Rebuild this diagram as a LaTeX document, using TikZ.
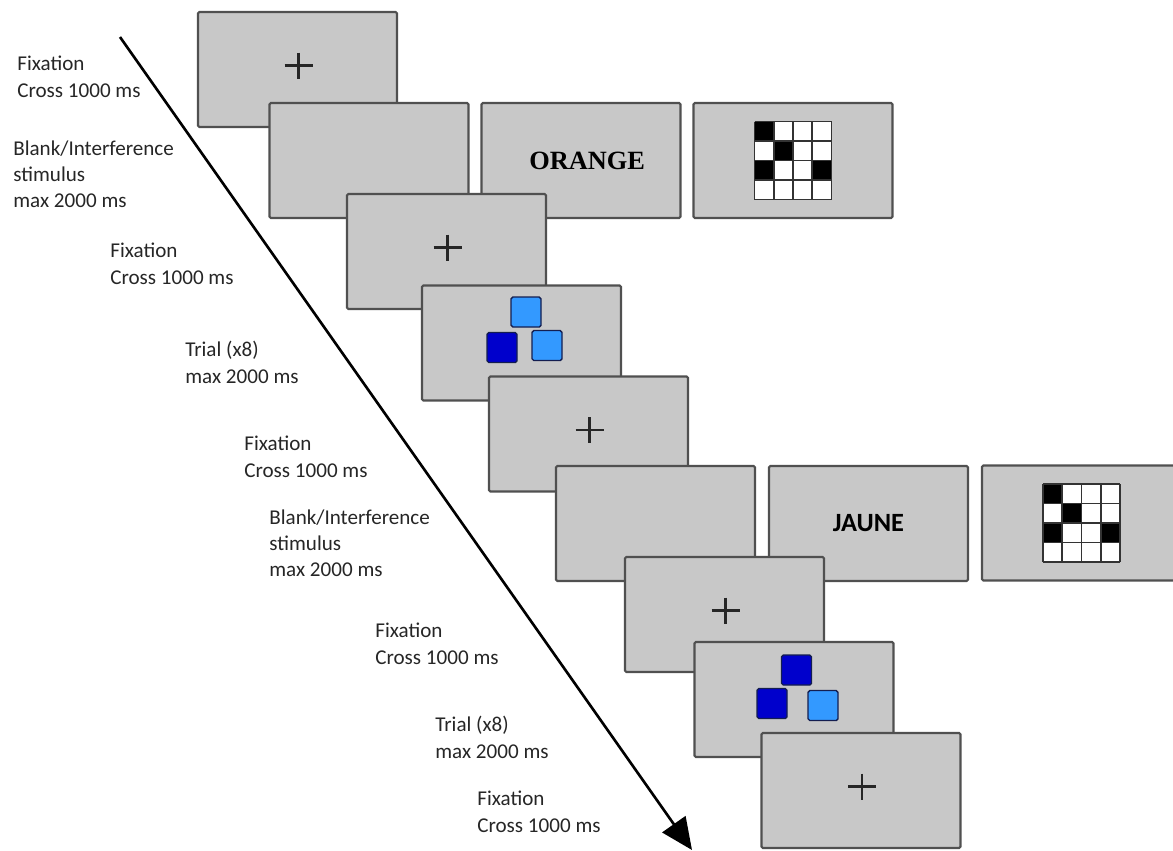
\documentclass[tikz,border=0pt]{standalone}
\usepackage{fontspec}
\setmainfont{Carlito}
\newfontfamily\serifword{Liberation Serif}
\usepackage{tikz}
\usetikzlibrary{arrows.meta}
\definecolor{screengray}{RGB}{200,200,200}
\definecolor{frameline}{RGB}{80,80,80}
\definecolor{darkblue}{RGB}{0,0,204}
\definecolor{lightblue}{RGB}{51,153,255}
\definecolor{navyline}{RGB}{20,30,80}
\tikzset{screen/.style={rectangle, draw=frameline, fill=screengray, line width=1.2pt,
      rounded corners=0.8pt, minimum width=3.98cm, minimum height=2.3cm, inner sep=0pt}}
\tikzset{block/.style={rectangle, draw=navyline, line width=0.8pt, rounded corners=1pt,
      minimum size=0.6cm, inner sep=0pt}}
\tikzset{timing/.style={anchor=north west, align=left, inner sep=0pt, text=black!85,
      font=\fontsize{12}{15}\selectfont}}
\tikzset{fixcross/.style={line width=1.5pt, draw=black!85}}
\tikzset{gridline/.style={line width=1pt, draw=black!80}}
\tikzset{timeline/.style={line width=1.5pt, -{Triangle[length=18pt,width=16pt]}}}
\newcommand{\fixmark}[1]{\draw[fixcross] (#1) ++(-13,-4) -- ++(28,0) (#1) ++(1,-17) -- ++(0,26);}
\newcommand{\memgrid}[1]{%
  \fill[white] (#1) ++(-38.5,-39) rectangle ++(77,78);
  \foreach \c/\r in {0/0,1/1,0/2,3/2}
    \fill[black] (#1) ++(-38.5+19.25*\c,-39+19.5*\r) rectangle ++(19.25,19.5);
  \foreach \k in {0,...,4} {
    \draw[gridline] (#1) ++(-38.5+19.25*\k,-39) -- ++(0,78);
    \draw[gridline] (#1) ++(-38.5,-39+19.5*\k) -- ++(77,0);
  }}
\begin{document}
\begin{tikzpicture}[x=0.02cm,y=-0.02cm]
	\path[use as bounding box, clip] (0,0) rectangle (1173,850);
	% first block
	\node[screen] (fixA) at (297.5,69.5) {};
	\fixmark{fixA.center}
	\node[screen] (blankA) at (369,160.5) {};
	\node[screen, font=\serifword\bfseries\fontsize{15}{15}\selectfont, text depth=0pt] (wordA) at (581,160.5) {\hspace*{7pt}ORANGE};
	\node[screen] (gridA) at (793,160.5) {};
	\memgrid{gridA.center}
	\node[screen] (fixB) at (446.5,251.5) {};
	\fixmark{fixB.center}
	\node[screen] (trialA) at (521.5,343) {};
	\node[block, fill=lightblue] (trialAtop) at (526,312) {};
	\node[block, fill=darkblue] (trialAleft) at (502,347.5) {};
	\node[block, fill=lightblue] (trialAright) at (547,345.5) {};
	\node[screen] (fixC) at (588.5,434) {};
	\fixmark{fixC.center}
	% second block
	\node[screen] (blankB) at (655.5,523.5) {};
	\node[screen, font=\bfseries\fontsize{15}{15}\selectfont] (wordB) at (868.5,523.5) {JAUNE};
	\node[screen] (gridB) at (1081.5,523) {};
	\memgrid{gridB.center}
	\node[screen] (fixD) at (724.5,614.5) {};
	\fixmark{fixD.center}
	\node[screen] (trialB) at (794,699.5) {};
	\node[block, fill=darkblue] (trialBtop) at (796.5,670) {};
	\node[block, fill=darkblue] (trialBleft) at (772,703.5) {};
	\node[block, fill=lightblue] (trialBright) at (823,705.5) {};
	\node[screen] (fixE) at (861,790.5) {};
	\fixmark{fixE.center}
	% time arrow
	\coordinate (tStart) at (120,37);
	\coordinate (tEnd) at (692,850);
	\draw[timeline] (tStart) -- (tEnd);
	% durations
	\node[timing] (tFixA) at (17,56) {Fixation\\Cross 1000 ms};
	\node[timing] (tBlankA) at (13,140) {Blank/Interference\\stimulus\\max 2000 ms};
	\node[timing] (tFixB) at (110,243) {Fixation\\Cross 1000 ms};
	\node[timing] (tTrialA) at (185,341) {Trial (x8)\\max 2000 ms};
	\node[timing] (tFixC) at (244,436) {Fixation\\Cross 1000 ms};
	\node[timing] (tBlankB) at (269,509) {Blank/Interference\\stimulus\\max 2000 ms};
	\node[timing] (tFixD) at (375,623) {Fixation\\Cross 1000 ms};
	\node[timing] (tTrialB) at (435,716) {Trial (x8)\\max 2000 ms};
	\node[timing] (tFixE) at (477,791) {Fixation\\Cross 1000 ms};
\end{tikzpicture}
\end{document}
